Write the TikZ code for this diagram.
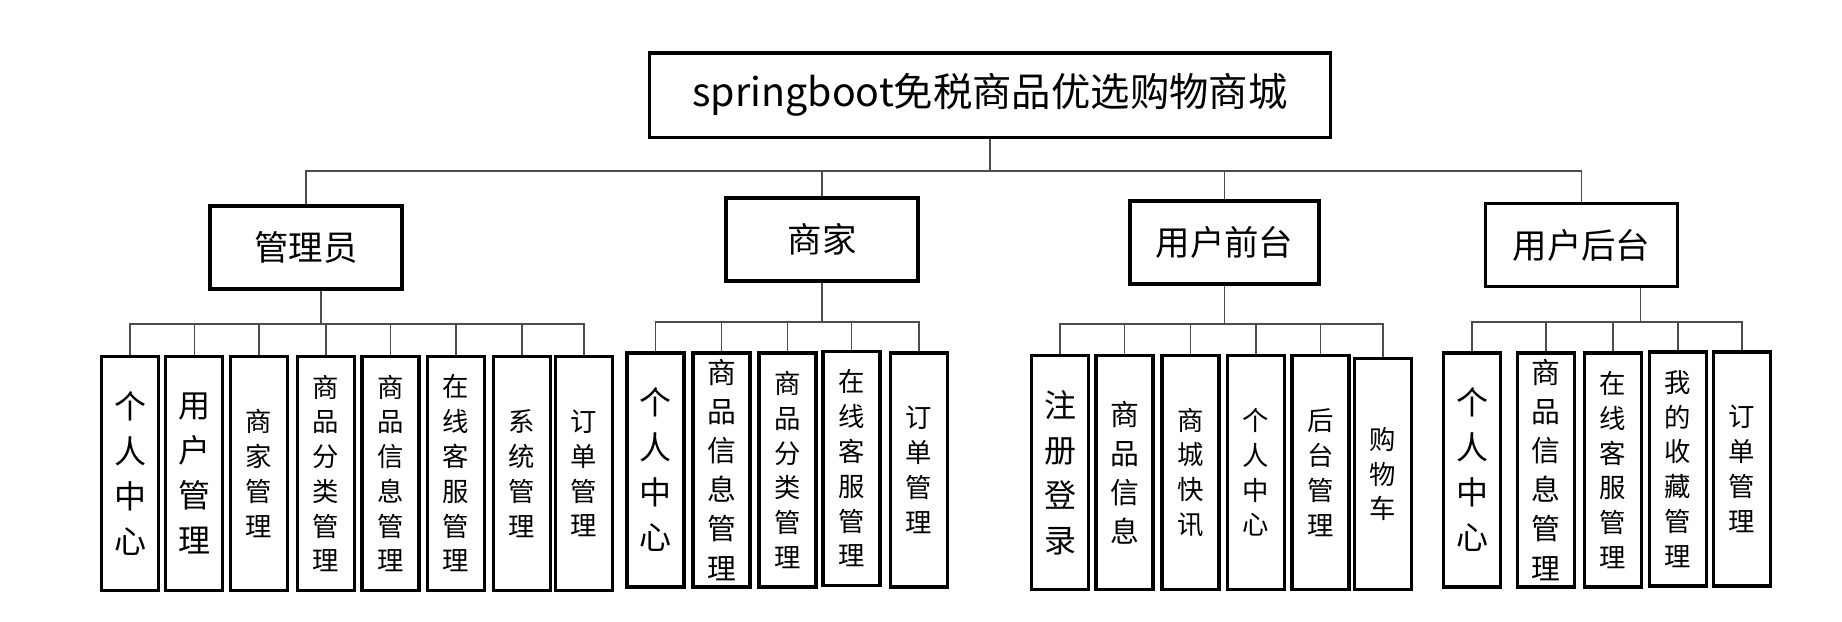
\documentclass[tikz,border=0pt]{standalone}
\usepackage{fontspec}
\setmainfont{Noto Sans CJK SC}
\usetikzlibrary{positioning, calc}

\begin{document}
\begin{tikzpicture}[font=\small,
    box/.style={draw, line width=0.9pt, inner sep=0pt, align=center},
    head/.style={box, minimum width=1.92cm, minimum height=0.83cm, font=\fontsize{9.8}{11}\selectfont},
    leaf/.style={box, minimum width=0.57cm, minimum height=2.34cm},
    nsz/.style={font=\fontsize{7.5}{9.9}\selectfont},
    msz/.style={font=\fontsize{8.2}{11.1}\selectfont},
    bsz/.style={font=\fontsize{9.1}{12.8}\selectfont},
    link/.style={draw=black!70, line width=0.45pt}]
    \useasboundingbox (0,0) rectangle (18.42,-6.22);
    \node[box, minimum width=6.81cm, minimum height=0.845cm, font=\fontsize{11.2}{13}\selectfont] (root) at (9.90,-0.952) {springboot免税商品优选购物商城};
    \node[head] (adm) at (3.06,-2.475) {管理员};
    \node[head] (mer) at (8.22,-2.395) {商家};
    \node[head, minimum width=1.89cm] (front) at (12.245,-2.425) {用户前台};
    \node[head] (back) at (15.815,-2.45) {用户后台};

    \node[leaf, bsz] (adm1) at (1.30,-4.735) {个\\人\\中\\心};
    \node[leaf, bsz] (adm2) at (1.943,-4.735) {用\\户\\管\\理};
    \node[leaf, nsz] (adm3) at (2.59,-4.735) {商\\家\\管\\理};
    \node[leaf, nsz] (adm4) at (3.26,-4.735) {商\\品\\分\\类\\管\\理};
    \node[leaf, nsz] (adm5) at (3.905,-4.735) {商\\品\\信\\息\\管\\理};
    \node[leaf, nsz] (adm6) at (4.558,-4.735) {在\\线\\客\\服\\管\\理};
    \node[leaf, nsz] (adm7) at (5.218,-4.735) {系\\统\\管\\理};
    \node[leaf, nsz] (adm8) at (5.84,-4.735) {订\\单\\管\\理};

    \node[leaf, bsz] (mer1) at (6.555,-4.70) {个\\人\\中\\心};
    \node[leaf, msz] (mer2) at (7.215,-4.70) {商\\品\\信\\息\\管\\理};
    \node[leaf, nsz] (mer3) at (7.875,-4.70) {商\\品\\分\\类\\管\\理};
    \node[leaf, nsz] (mer4) at (8.515,-4.685) {在\\线\\客\\服\\管\\理};
    \node[leaf, nsz] (mer5) at (9.19,-4.70) {订\\单\\管\\理};

    \node[leaf, bsz] (front1) at (10.60,-4.725) {注\\册\\登\\录};
    \node[leaf, msz] (front2) at (11.245,-4.725) {商\\品\\信\\息};
    \node[leaf, nsz] (front3) at (11.905,-4.725) {商\\城\\快\\讯};
    \node[leaf, nsz] (front4) at (12.56,-4.725) {个\\人\\中\\心};
    \node[leaf, nsz] (front5) at (13.205,-4.725) {后\\台\\管\\理};
    \node[leaf, nsz, minimum height=2.31cm] (front6) at (13.83,-4.74) {购\\物\\车};

    \node[leaf, bsz] (back1) at (14.72,-4.70) {个\\人\\中\\心};
    \node[leaf, msz] (back2) at (15.46,-4.70) {商\\品\\信\\息\\管\\理};
    \node[leaf, nsz] (back3) at (16.13,-4.70) {在\\线\\客\\服\\管\\理};
    \node[leaf, nsz] (back4) at (16.78,-4.69) {我\\的\\收\\藏\\管\\理};
    \node[leaf, nsz] (back5) at (17.42,-4.69) {订\\单\\管\\理};

    \coordinate (top) at (0,-1.71);
    \coordinate (admbus) at (0,-3.24);
    \coordinate (merbus) at (0,-3.22);
    \coordinate (frontbus) at (0,-3.24);
    \coordinate (backbus) at (0,-3.22);

    \draw[link] (root.south) -- (root.south |- top);
    \draw[link] (adm.north) |- (back.north |- top) -- (back.north);
    \draw[link] (mer.north) -- (mer.north |- top) (front.north) -- (front.north |- top);

    \draw[link] ([xshift=1.5mm]adm.south) -- ([xshift=1.5mm]adm.south |- admbus);
    \draw[link] (adm1.north) |- (adm8.north |- admbus) -- (adm8.north);
    \draw[link] (adm2.north) -- (adm2.north |- admbus) (adm3.north) -- (adm3.north |- admbus)
        (adm4.north) -- (adm4.north |- admbus) (adm5.north) -- (adm5.north |- admbus)
        (adm6.north) -- (adm6.north |- admbus) (adm7.north) -- (adm7.north |- admbus);

    \draw[link] (mer.south) -- (mer.south |- merbus);
    \draw[link] (mer1.north) |- (mer5.north |- merbus) -- (mer5.north);
    \draw[link] (mer2.north) -- (mer2.north |- merbus) (mer3.north) -- (mer3.north |- merbus)
        (mer4.north) -- (mer4.north |- merbus);

    \draw[link] (front.south) -- (front.south |- frontbus);
    \draw[link] (front1.north) |- (front6.north |- frontbus) -- (front6.north);
    \draw[link] (front2.north) -- (front2.north |- frontbus) (front3.north) -- (front3.north |- frontbus)
        (front4.north) -- (front4.north |- frontbus) (front5.north) -- (front5.north |- frontbus);

    \draw[link] ([xshift=5.9mm]back.south) -- ([xshift=5.9mm]back.south |- backbus);
    \draw[link] (back1.north) |- (back5.north |- backbus) -- (back5.north);
    \draw[link] (back2.north) -- (back2.north |- backbus) (back3.north) -- (back3.north |- backbus)
        (back4.north) -- (back4.north |- backbus);
\end{tikzpicture}
\end{document}
